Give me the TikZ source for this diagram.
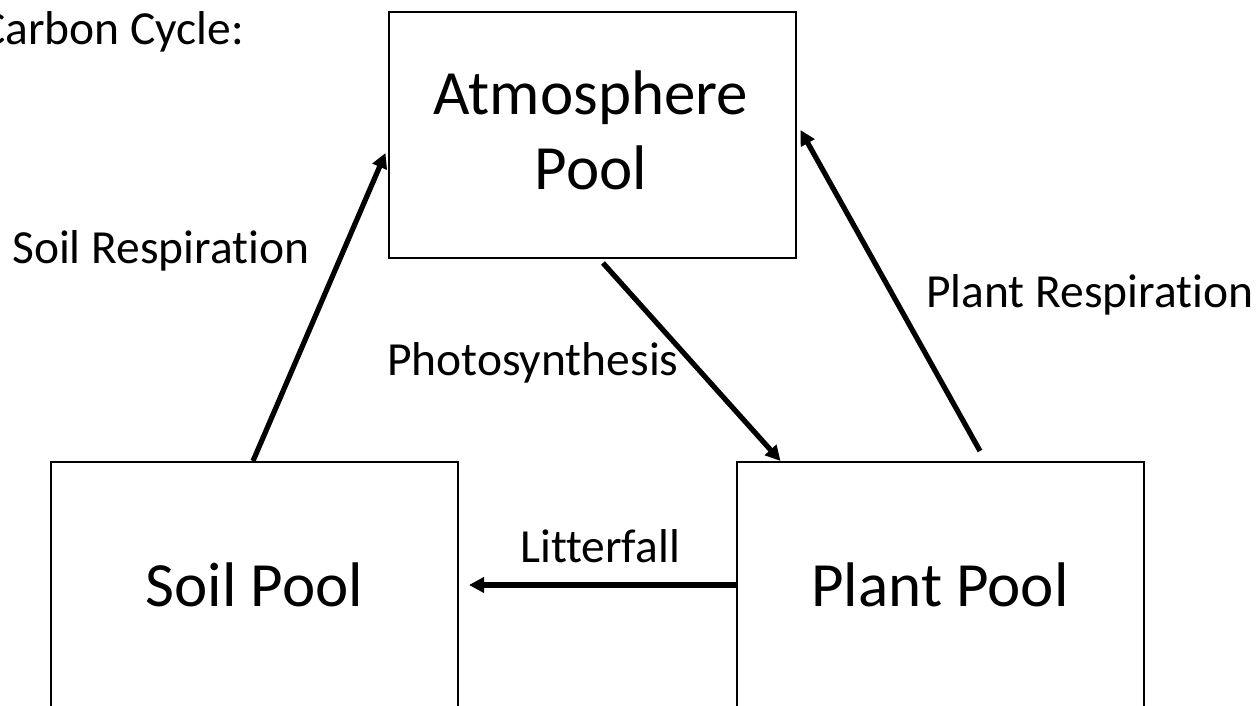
\documentclass[tikz,border=0pt]{standalone}
\usepackage{fontspec}
\setmainfont{Carlito}[Ligatures={NoCommon}]
\usetikzlibrary{arrows.meta,calc}
\begin{document}
\begin{tikzpicture}[x=1pt,y=-1pt,
  pool/.style={draw=black,line width=2pt,minimum width=407pt,minimum height=246pt,
    inner sep=0pt,align=center,font=\fontsize{63}{75}\selectfont},
  bigtext/.style={inner sep=0pt,align=center,font=\fontsize{63}{75}\selectfont},
  lbl/.style={anchor=base west,inner sep=0pt,font=\fontsize{47.5}{56}\selectfont},
  flow/.style={line width=5.2pt,-{Triangle[length=15pt,width=15pt]}}]
\useasboundingbox (0,0) rectangle (1256,706);
\clip (0,0) rectangle (1256,706);
\node[pool] (atm) at (592,135) {};
\node[bigtext] (atmtext) at ($(atm.center)+(-1,-5)$) {Atmosphere\\Pool};
\node[pool] (soil) at (254.5,585) {Soil Pool};
\node[pool] (plant) at (940,585) {Plant Pool};
\node[lbl] (title) at (-20,45) {Carbon Cycle:};
\node[lbl] (lsr) at (12,263) {Soil Respiration};
\node[lbl] (lps) at (387,375) {Photosynthesis};
\node[lbl] (llf) at (520,562) {Litterfall};
\node[lbl] (lpr) at (926,307) {Plant Respiration};
\draw[flow] ($(soil.north)+(-1.5,0)$) -- ($(atm.west)+(-2,18)$);
\draw[flow] ($(atm.south)+(11,4)$) -- ($(plant.north west)+(45,0)$);
\draw[flow] ($(plant.north)+(40,-10)$) -- ($(atm.east)+(4,-5)$);
\draw[flow] (plant.west) -- ($(soil.east)+(10,0)$);
\end{tikzpicture}
\end{document}
